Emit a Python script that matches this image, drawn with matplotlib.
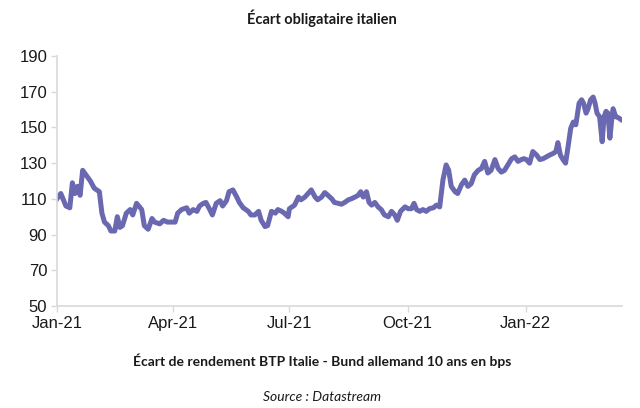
import numpy as np
import pandas as pd
import matplotlib
matplotlib.use("Agg")
import matplotlib.pyplot as plt
import matplotlib.dates as mdates

# Écart BTP-Bund 10 ans (bps)
start_date = "2021-01-01"
day_offsets = [
    0, 3, 7, 10, 12, 14, 16, 18, 20, 23, 26, 29, 33, 35, 37, 40, 42, 45, 47, 49,
    51, 54, 57, 59, 62, 66, 68, 71, 74, 76, 80, 83, 86, 92, 94, 97, 101, 103, 106, 109,
    111, 114, 116, 119, 121, 124, 127, 129, 132, 134, 137, 140, 142, 145, 149, 151, 154, 157, 159, 162,
    164, 167, 170, 172, 175, 177, 180, 181, 185, 188, 190, 193, 195.5, 198, 201, 203, 206, 208.5, 211, 214,
    216, 219, 221.5, 224, 227, 229, 232, 234.5, 236.5, 238.5, 241, 243, 245, 247.5, 250, 252.5, 255, 258, 260.5, 263,
    265, 267.5, 271, 273.5, 276, 278, 280, 282.5, 285, 287.5, 290, 293, 295.5, 298, 300.5, 303, 305, 307, 310, 312,
    315, 317.5, 320, 322.5, 325, 328, 330.5, 333, 335.5, 338, 341, 343.5, 346, 348.5, 351, 354, 356.5, 359, 361.5, 363.5,
    365.5, 368, 370.5, 373.5, 376, 378.5, 381, 383.5, 386.5, 388.5, 390, 392, 394, 396, 398, 400, 402, 404, 406.5, 408.5,
    410, 412, 413.5, 415.5, 417.5, 419, 420.5, 422.5, 424.5, 426, 427.5, 429, 430.5, 432, 433, 435, 437, 439,
]
spread_bps = [
    110, 113, 106, 105, 119, 113, 117, 112, 126, 123, 120, 116, 114, 102, 97, 95, 92, 92, 100, 94,
    95, 102, 104, 101, 107.5, 104, 95, 93, 99, 97, 96, 98, 97, 97, 102, 104, 105, 102, 104, 103,
    106, 107.5, 108, 104, 101, 107.5, 109, 106, 109, 114, 115, 111, 108, 105, 103, 101, 101, 103, 98, 94.5,
    95, 103, 102, 104, 103, 102, 100, 104.5, 106.5, 111, 109.5, 111, 113, 115, 111, 109.5, 111, 113.5, 112, 110,
    108, 107.5, 107, 108, 109.5, 110, 111, 112, 114, 111, 114, 108, 106.5, 108, 105.5, 104, 101, 100, 103, 101,
    98, 103, 105.5, 104.5, 104.5, 107.5, 104, 103, 104, 103, 104.5, 105, 106.5, 105.5, 120.5, 129, 126, 117, 114, 113,
    118, 120.5, 117, 118.5, 123.5, 126, 127, 131, 124.5, 126, 132, 127, 125, 126, 129, 132.5, 133.5, 131, 132, 132.5,
    132, 130, 136.5, 134.5, 132, 132.5, 133.5, 134.5, 135.5, 136.5, 141.5, 134.5, 132, 130, 139.5, 149.5, 153, 151.5, 163.5, 165.5,
    163.5, 158, 160.5, 165.5, 167, 163.5, 158, 156, 142, 156, 159, 158, 144, 155, 160.5, 156, 155.5, 154.5,
]
y_ticks = [50, 70, 90, 110, 130, 150, 170, 190]
x_ticks = ["2021-01-01", "2021-04-01", "2021-07-01", "2021-10-01", "2022-01-01"]

dates = pd.Timestamp(start_date) + pd.to_timedelta(np.array(day_offsets), unit="D")

fig = plt.figure(figsize=(6.4, 4.08), dpi=100)
ax = fig.add_axes([0.089, 0.25, 0.883, 0.6127])

ax.plot(dates, spread_bps, color="#6a68b0", linewidth=3.6, solid_joinstyle="round")

ax.set_ylim(50, 190)
ax.set_yticks(y_ticks)
ax.set_xlim(pd.Timestamp(start_date), pd.Timestamp(start_date) + pd.Timedelta(days=440))
ax.set_xticks(pd.to_datetime(x_ticks))
ax.xaxis.set_major_formatter(mdates.DateFormatter("%b-%y"))

for side in ["top", "right"]:
    ax.spines[side].set_visible(False)
for side in ["left", "bottom"]:
    ax.spines[side].set_color("#d9d9d9")
    ax.spines[side].set_linewidth(1.2)
ax.tick_params(axis="both", colors="#d9d9d9", length=4, width=1, labelsize=12,
               labelcolor="#1a1a1a", pad=3)
for lbl in ax.get_xticklabels() + ax.get_yticklabels():
    lbl.set_fontfamily("Liberation Sans")

fig.text(0.503, 0.955, "Écart obligataire italien", ha="center", va="center",
         fontsize=10.5, fontweight="bold", family="Lato", color="#1a1a1a")
fig.text(0.503, 0.117, "Écart de rendement BTP Italie - Bund allemand 10 ans en bps",
         ha="center", va="center", fontsize=10, fontweight="bold", family="Lato", color="#1a1a1a")
fig.text(0.503, 0.027, "Source : Datastream", ha="center", va="center",
         fontsize=10, style="italic", family="Lato", color="#1a1a1a")

fig.savefig("out.png", dpi=100)
